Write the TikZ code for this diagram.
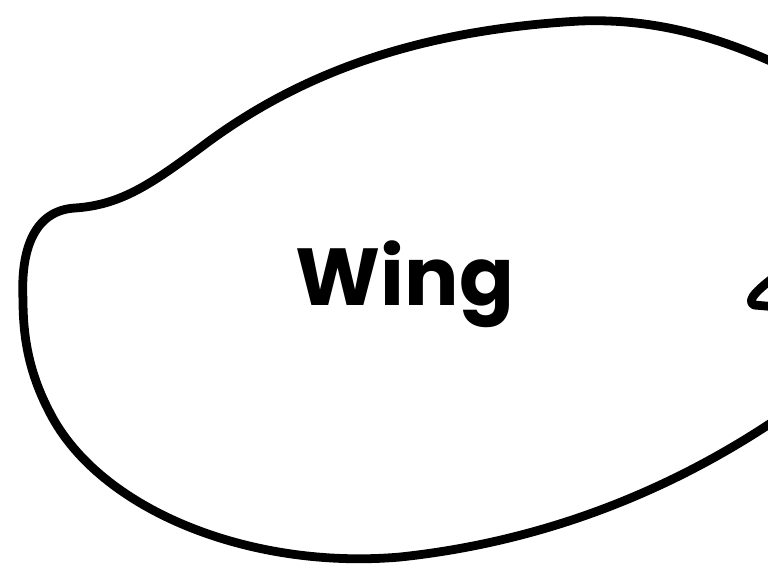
\documentclass[tikz,border=0pt]{standalone}
\usepackage{fontspec}
\setmainfont{Poppins}
\usepackage{tikz}

\begin{document}
\begin{tikzpicture}[
  x=0.01cm, y=-0.01cm,
  outline/.style={line width=2.5pt, line join=round, line cap=round},
  wingtext/.style={font=\fontsize{23}{26}\selectfont\bfseries}
]
\useasboundingbox (0,0) rectangle (768,566);
\clip (0,0) rectangle (768,566);

% wing outline, runs off the right edge
\draw[outline] (23,300) .. controls (20,240) and (40,210) .. (75,208)
  .. controls (120,205) and (150,185) .. (200,148)
  .. controls (300,72) and (420,30) .. (580,21)
  .. controls (660,18) and (730,40) .. (800,75)
  .. controls (900,130) and (900,360) .. (790,410)
  .. controls (690,480) and (560,540) .. (400,557)
  .. controls (250,570) and (100,510) .. (50,413)
  .. controls (30,375) and (23,340) .. (23,300) -- cycle;

\node[wingtext, anchor=base] (wing) at (405,305) {Wing};

% start of the next part at the edge
\draw[outline] (778,274) .. controls (760,288) and (745,300) .. (754,305)
  -- (778,307);

\end{tikzpicture}
\end{document}
